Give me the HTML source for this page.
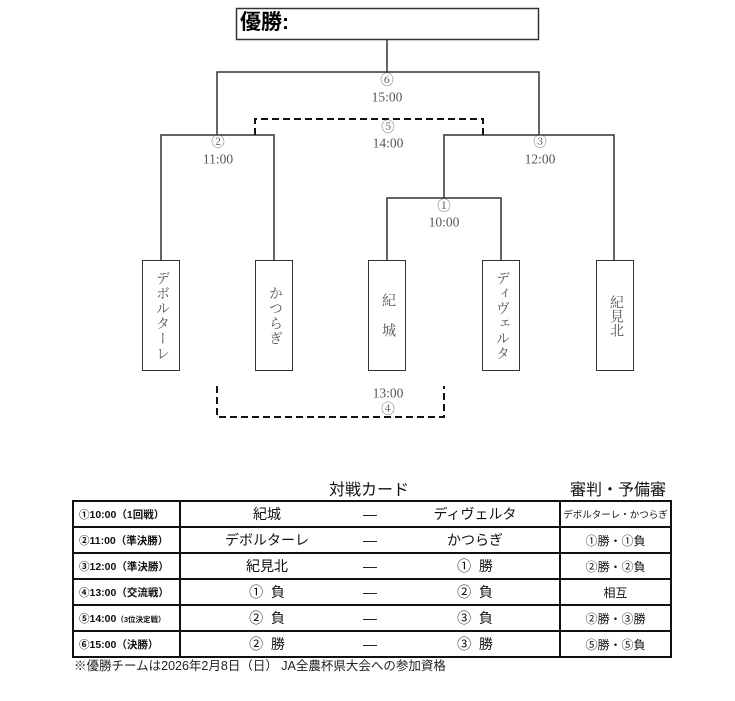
<!DOCTYPE html>
<html><head><meta charset="utf-8">
<style>
html,body{margin:0;padding:0;background:#fff;}
body{width:735px;height:701px;position:relative;overflow:hidden;font-family:"Liberation Sans","Noto Sans CJK JP",sans-serif;}
.abs{position:absolute;}
.vt{position:absolute;writing-mode:vertical-rl;font-family:"Liberation Serif","Noto Serif CJK SC",serif;color:#555;font-size:14px;display:flex;align-items:center;justify-content:center;box-sizing:border-box;border:1.5px solid #333;background:#fff;}
table{position:absolute;left:72px;top:500px;border-collapse:collapse;table-layout:fixed;}
td{border:2px solid #111;height:24px;padding:0;font-size:13px;color:#111;box-sizing:border-box;}
tr{height:26px;}
.c1{font-weight:bold;font-size:10.5px;padding-left:5px;white-space:nowrap;}
.c3{text-align:center;font-size:12px;}
.c2{position:relative;}
.c2 span{position:absolute;top:50%;transform:translate(-50%,-50%);white-space:nowrap;font-size:14px;}
</style></head><body>
<svg class="abs" style="left:0;top:0" width="735" height="701">
<g stroke="#333" stroke-width="1.5" fill="none">
<rect x="236.5" y="8.5" width="302" height="31"/>
<path d="M387 40V72"/>
<path d="M217 135V72H539V135"/>
<path d="M161 260V135H274V260"/>
<path d="M444 198V135H614V260"/>
<path d="M387 260V198H501V260"/>
</g>
<g stroke="#111" stroke-width="2" fill="none" stroke-dasharray="7 4">
<path d="M255 135V119H483V135"/>
<path d="M217 386V417H444V386"/>
</g>
<g font-family="Liberation Serif, Noto Serif CJK SC, serif" font-size="13.5" fill="#555" text-anchor="middle" dominant-baseline="central">
<text x="387" y="80">⑥</text><text x="387" y="97">15:00</text>
<text x="388" y="127">⑤</text><text x="388" y="143">14:00</text>
<text x="218" y="142">②</text><text x="218" y="159">11:00</text>
<text x="540" y="142">③</text><text x="540" y="159">12:00</text>
<text x="444" y="206">①</text><text x="444" y="222">10:00</text>
<text x="388" y="393">13:00</text><text x="388" y="409">④</text>
</g>
</svg>
<div class="abs" style="left:240px;top:9px;font-size:21px;font-weight:bold;color:#000;line-height:28px;">優勝:</div>

<div class="vt" style="left:142px;top:260px;width:38px;height:111px;letter-spacing:1px;">デボルターレ</div>
<div class="vt" style="left:255px;top:260px;width:38px;height:111px;letter-spacing:1px;">かつらぎ</div>
<div class="vt" style="left:368px;top:260px;width:38px;height:111px;letter-spacing:1px;">紀　城</div>
<div class="vt" style="left:482px;top:260px;width:38px;height:111px;letter-spacing:1px;">ディヴェルタ</div>
<div class="vt" style="left:596px;top:260px;width:38px;height:111px;">紀見北</div>

<div class="abs" style="left:329px;top:481px;font-size:16px;color:#111;line-height:20px;">対戦カード</div>
<div class="abs" style="left:570px;top:481px;font-size:16px;color:#111;line-height:20px;">審判・予備審</div>

<table>
<colgroup><col style="width:107px"><col style="width:380px"><col style="width:111px"></colgroup>
<tr><td class="c1">①10:00（1回戦）</td><td class="c2"><span style="left:86px">紀城</span><span style="left:189px">—</span><span style="left:294px">ディヴェルタ</span></td><td class="c3" style="font-size:9.5px">デボルターレ・かつらぎ</td></tr>
<tr><td class="c1">②11:00（準決勝）</td><td class="c2"><span style="left:86px">デボルターレ</span><span style="left:189px">—</span><span style="left:294px">かつらぎ</span></td><td class="c3">①勝・①負</td></tr>
<tr><td class="c1">③12:00（準決勝）</td><td class="c2"><span style="left:86px">紀見北</span><span style="left:189px">—</span><span style="left:294px">①&nbsp;&nbsp;勝</span></td><td class="c3">②勝・②負</td></tr>
<tr><td class="c1">④13:00（交流戦）</td><td class="c2"><span style="left:86px">①&nbsp;&nbsp;負</span><span style="left:189px">—</span><span style="left:294px">②&nbsp;&nbsp;負</span></td><td class="c3">相互</td></tr>
<tr><td class="c1">⑤14:00<span style="font-size:7.5px">（3位決定戦）</span></td><td class="c2"><span style="left:86px">②&nbsp;&nbsp;負</span><span style="left:189px">—</span><span style="left:294px">③&nbsp;&nbsp;負</span></td><td class="c3">②勝・③勝</td></tr>
<tr><td class="c1">⑥15:00（決勝）</td><td class="c2"><span style="left:86px">②&nbsp;&nbsp;勝</span><span style="left:189px">—</span><span style="left:294px">③&nbsp;&nbsp;勝</span></td><td class="c3">⑤勝・⑤負</td></tr>
</table>
<div class="abs" style="left:74px;top:658px;font-size:12.5px;color:#222;line-height:16px;white-space:nowrap;">※優勝チームは2026年2月8日（日） JA全農杯県大会への参加資格</div>
</body></html>
